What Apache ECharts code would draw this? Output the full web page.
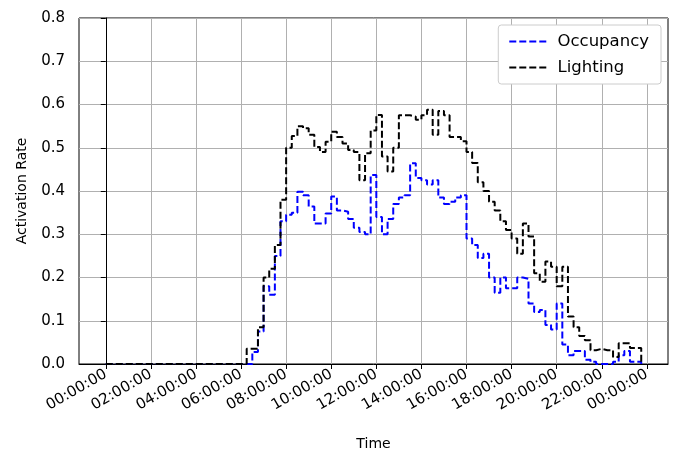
<!DOCTYPE html>
<html>
<head>
<meta charset="utf-8">
<script src="https://cdn.jsdelivr.net/npm/echarts@6/dist/echarts.min.js"></script>
<style>html,body{margin:0;padding:0;background:#fff}#c{width:678px;height:456px}</style>
</head>
<body>
<div id="c"></div>
<script>
// 15-minute intervals, 00:00 .. 23:45
const times = [
 "00:00","00:15","00:30","00:45","01:00","01:15","01:30","01:45",
 "02:00","02:15","02:30","02:45","03:00","03:15","03:30","03:45",
 "04:00","04:15","04:30","04:45","05:00","05:15","05:30","05:45",
 "06:00","06:15","06:30","06:45","07:00","07:15","07:30","07:45",
 "08:00","08:15","08:30","08:45","09:00","09:15","09:30","09:45",
 "10:00","10:15","10:30","10:45","11:00","11:15","11:30","11:45",
 "12:00","12:15","12:30","12:45","13:00","13:15","13:30","13:45",
 "14:00","14:15","14:30","14:45","15:00","15:15","15:30","15:45",
 "16:00","16:15","16:30","16:45","17:00","17:15","17:30","17:45",
 "18:00","18:15","18:30","18:45","19:00","19:15","19:30","19:45",
 "20:00","20:15","20:30","20:45","21:00","21:15","21:30","21:45",
 "22:00","22:15","22:30","22:45","23:00","23:15","23:30","23:45"
];
const occupancy = [
 0,0,0,0,0,0,0,0, 0,0,0,0,0,0,0,0, 0,0,0,0,0,0,0,0,
 0,0,0.028,0.075,0.18,0.16,0.25,0.33,
 0.345,0.35,0.398,0.39,0.364,0.325,0.325,0.348,
 0.387,0.355,0.352,0.335,0.315,0.305,0.3,0.437,
 0.34,0.3,0.335,0.37,0.385,0.39,0.464,0.43,
 0.425,0.415,0.425,0.385,0.37,0.375,0.385,0.39,
 0.29,0.275,0.245,0.255,0.2,0.165,0.2,0.175,
 0.175,0.2,0.197,0.14,0.12,0.125,0.09,0.08,
 0.14,0.045,0.02,0.03,0.03,0.01,0.005,0,
 0,0,0.005,0.02,0.03,0.005,0.005,0
];
const lighting = [
 0,0,0,0,0,0,0,0, 0,0,0,0,0,0,0,0, 0,0,0,0,0,0,0,0,
 0,0.035,0.035,0.085,0.2,0.22,0.275,0.38,
 0.5,0.527,0.55,0.545,0.53,0.502,0.49,0.514,
 0.537,0.525,0.51,0.495,0.49,0.425,0.487,0.54,
 0.576,0.48,0.445,0.5,0.575,0.575,0.572,0.565,
 0.575,0.588,0.53,0.585,0.575,0.525,0.525,0.515,
 0.49,0.465,0.42,0.4,0.375,0.355,0.33,0.31,
 0.29,0.255,0.325,0.295,0.21,0.19,0.237,0.225,
 0.18,0.225,0.11,0.085,0.065,0.055,0.032,0.035,
 0.032,0.032,0.016,0.048,0.048,0.037,0.037,0
];
const xTicks = [0,2,4,6,8,10,12,14,16,18,20,22,24];

function toHours(s){const p=s.split(":");return +p[0]+(+p[1])/60;}
function pad(n){return (n<10?"0":"")+n;}
const hrs = times.map(toHours);
const occData = hrs.map((h,i)=>[h,occupancy[i]]);
const litData = hrs.map((h,i)=>[h,lighting[i]]);

const FONT = "DejaVu Sans";
const chart = echarts.init(document.getElementById('c'), null, {renderer:'canvas'});
chart.setOption({
  animation:false,
  textStyle:{fontFamily:FONT},
  grid:{left:79,right:10,top:18,bottom:92,show:true,borderColor:'#000',borderWidth:1,backgroundColor:'transparent'},
  legend:{
    right:17, top:25, orient:'vertical',
    itemWidth:38, itemHeight:14, itemGap:9,
    padding:[8,12,8,10],
    borderColor:'#cccccc', borderWidth:1, borderRadius:3,
    backgroundColor:'#fff',
    itemStyle:{opacity:0},
    formatter:n=>' '+n,
    textStyle:{fontFamily:FONT,fontSize:16.5,color:'#000'},
    data:['Occupancy','Lighting']
  },
  xAxis:{
    type:'value', min:-1.1875, max:24.9375,
    name:'Time', nameLocation:'middle', nameGap:73,
    nameTextStyle:{fontFamily:FONT,fontSize:14,color:'#000'},
    axisLine:{show:true,onZero:false,lineStyle:{color:'#000',width:1}},
    axisTick:{show:true,customValues:xTicks,length:5,lineStyle:{color:'#000'}},
    axisLabel:{customValues:xTicks,rotate:30,fontSize:15,color:'#000',fontFamily:FONT,margin:9,
      formatter:v=>pad(Math.round(v)%24)+":00:00"},
    splitLine:{show:true,lineStyle:{color:'#b0b0b0',width:1}}
  },
  yAxis:{
    type:'value', min:0, max:0.8, interval:0.1,
    name:'Activation Rate', nameLocation:'middle', nameGap:50,
    nameTextStyle:{fontFamily:FONT,fontSize:14,color:'#000'},
    axisLine:{show:true,lineStyle:{color:'#000',width:1}},
    axisTick:{show:true,length:5,lineStyle:{color:'#000'}},
    axisLabel:{fontSize:15,color:'#000',fontFamily:FONT,margin:14,formatter:v=>v.toFixed(1)},
    splitLine:{show:true,lineStyle:{color:'#b0b0b0',width:1}}
  },
  series:[
    {name:'Occupancy',type:'line',step:'end',data:occData,symbol:'none',
     lineStyle:{color:'#0000ff',width:2,type:[7,3]},itemStyle:{color:'#0000ff'}},
    {name:'Lighting',type:'line',step:'end',data:litData,symbol:'none',
     lineStyle:{color:'#000000',width:2,type:[7,3]},itemStyle:{color:'#000000'}}
  ]
});
</script>
</body>
</html>
